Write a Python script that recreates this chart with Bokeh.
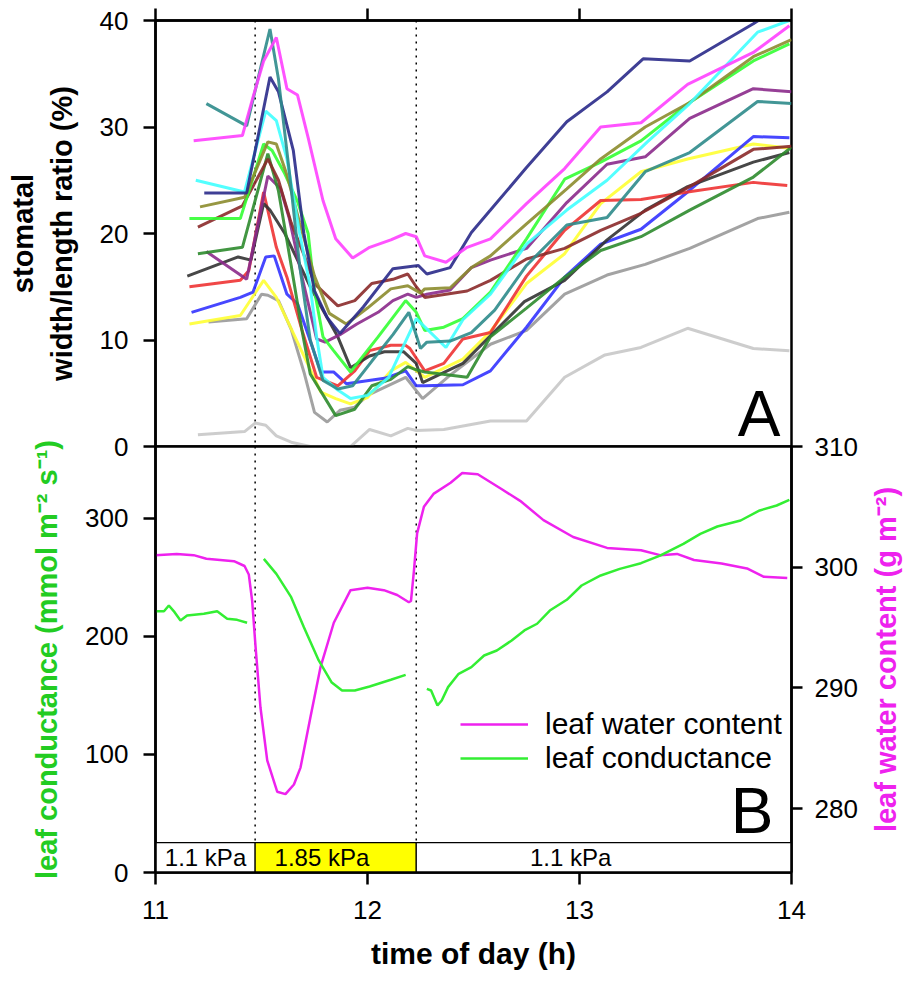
import math
from bokeh.plotting import figure
from bokeh.layouts import column, row
from bokeh.models import (Range1d, LinearAxis, FixedTicker, Span, Label,
                          Legend, LegendItem)
from bokeh.embed import file_html
from bokeh.resources import INLINE
from bokeh.core.properties import value

NAN = float("nan")
FONT = "Liberation Sans"

# ---------------- Panel A: stomatal width/length ratio (%) ----------------
magenta_t = [11.18, 11.41, 11.46, 11.51, 11.57, 11.62, 11.67, 11.72, 11.79, 11.85, 11.93, 12.01, 12.11, 12.18, 12.23, 12.27, 12.37, 12.47, 12.58, 12.75, 12.93, 13.10, 13.29, 13.51, 13.82, 13.99]
magenta_v = [28.7, 29.2, 32.8, 36.2, 38.4, 33.6, 33.0, 29.0, 23.1, 19.5, 17.7, 18.7, 19.4, 20.0, 19.7, 17.9, 17.3, 18.7, 19.5, 22.8, 26.1, 30.0, 30.4, 34.0, 37.0, 39.5]

teal_t = [11.24, 11.43, 11.54, 11.58, 11.63, 11.68, 11.73, 11.79, 11.86, 11.93, 12.02, 12.12, 12.195, 12.25, 12.28, 12.39, 12.49, 12.60, 12.75, 12.94, 13.13, 13.31, 13.52, 13.84, 14.0]
teal_v = [32.2, 30.1, 39.2, 34.5, 26.0, 17.0, 10.0, 6.2, 5.4, 5.7, 8.0, 10.5, 12.6, 9.2, 9.8, 9.9, 10.7, 12.8, 17.0, 20.8, 21.5, 25.8, 27.6, 32.4, 32.2]

navy_t = [11.23, 11.43, 11.54, 11.58, 11.65, 11.70, 11.75, 11.81, 11.87, 11.98, 12.12, 12.24, 12.28, 12.39, 12.49, 12.58, 12.75, 12.94, 13.13, 13.30, 13.52, 13.82, 14.0]
navy_v = [23.8, 23.8, 34.7, 33.3, 27.8, 20.0, 14.6, 12.1, 10.6, 13.1, 16.7, 17.0, 16.2, 16.8, 20.1, 22.2, 26.2, 30.5, 33.3, 36.4, 36.2, 39.7, 42.0]

cyan_t = [11.19, 11.42, 11.52, 11.57, 11.62, 11.68, 11.73, 11.76, 11.79, 11.86, 11.92, 12.00, 12.10, 12.23, 12.37, 12.45, 12.58, 12.75, 12.94, 13.13, 13.32, 13.52, 13.84, 13.99]
cyan_v = [25.0, 23.9, 31.5, 30.6, 27.0, 20.0, 15.0, 10.3, 6.5, 5.3, 4.5, 4.8, 6.5, 12.0, 9.3, 11.9, 14.3, 19.0, 22.2, 25.0, 28.6, 32.2, 38.9, 40.0]

olive_t = [11.21, 11.42, 11.53, 11.57, 11.62, 11.68, 11.75, 11.82, 11.90, 12.00, 12.11, 12.19, 12.25, 12.27, 12.39, 12.49, 12.58, 12.75, 12.94, 13.10, 13.31, 13.52, 13.82, 14.0]
olive_v = [22.5, 23.4, 28.6, 28.4, 25.5, 21.0, 16.0, 12.5, 11.5, 13.0, 14.8, 15.1, 14.4, 14.8, 14.9, 16.8, 17.9, 20.9, 24.2, 27.0, 30.0, 32.3, 36.6, 38.2]

green_t = [11.16, 11.40, 11.51, 11.55, 11.61, 11.67, 11.72, 11.75, 11.79, 11.84, 11.92, 12.05, 12.18, 12.23, 12.27, 12.36, 12.45, 12.58, 12.75, 12.93, 13.10, 13.29, 13.52, 13.82, 13.99]
green_v = [21.4, 21.4, 28.4, 27.8, 25.6, 23.0, 20.0, 14.6, 10.3, 9.0, 7.0, 10.3, 13.7, 12.6, 10.9, 11.2, 12.0, 14.5, 19.5, 25.1, 26.7, 28.7, 32.3, 36.2, 37.8]

maroon_t = [11.20, 11.41, 11.53, 11.58, 11.64, 11.70, 11.75, 11.86, 11.94, 12.02, 12.12, 12.19, 12.23, 12.27, 12.47, 12.58, 12.75, 12.93, 13.10, 13.29, 13.52, 13.82, 14.0]
maroon_v = [20.6, 22.6, 27.0, 25.0, 21.0, 18.0, 15.3, 13.2, 13.7, 15.3, 15.7, 16.2, 15.0, 14.0, 14.6, 15.6, 17.6, 18.6, 20.3, 21.9, 24.4, 27.9, 28.2]

forest_t = [11.20, 11.41, 11.53, 11.58, 11.64, 11.69, 11.73, 11.85, 11.94, 12.02, 12.11, 12.19, 12.23, 12.27, 12.47, 12.58, 12.75, 12.93, 13.10, 13.29, 13.52, 13.82, 14.0]
forest_v = [18.1, 18.7, 27.5, 24.0, 17.0, 11.0, 6.8, 2.9, 3.5, 5.7, 6.3, 7.5, 7.2, 7.0, 6.5, 10.3, 13.0, 15.9, 18.4, 19.7, 22.2, 25.3, 28.1]

purple_t = [11.24, 11.43, 11.53, 11.59, 11.63, 11.69, 11.76, 11.80, 11.87, 11.95, 12.05, 12.12, 12.19, 12.23, 12.28, 12.39, 12.49, 12.58, 12.75, 12.94, 13.13, 13.31, 13.52, 13.82, 14.0]
purple_v = [18.3, 15.7, 25.4, 24.2, 21.5, 16.0, 10.1, 9.8, 10.5, 11.5, 12.6, 13.7, 14.3, 14.0, 14.3, 14.7, 16.8, 17.5, 18.6, 22.9, 26.5, 27.2, 30.8, 33.6, 33.3]

black_t = [11.15, 11.39, 11.45, 11.51, 11.54, 11.61, 11.67, 11.73, 11.79, 11.86, 11.92, 12.01, 12.08, 12.17, 12.23, 12.26, 12.45, 12.74, 12.93, 13.13, 13.31, 13.51, 13.82, 13.99]
black_v = [16.0, 17.8, 17.5, 22.8, 22.2, 20.0, 17.5, 15.0, 12.8, 10.3, 7.4, 8.5, 8.9, 8.9, 7.8, 6.0, 7.8, 13.6, 15.6, 19.4, 22.2, 24.4, 26.7, 27.6]

red_t = [11.16, 11.40, 11.44, 11.51, 11.57, 11.62, 11.69, 11.76, 11.86, 11.94, 12.01, 12.11, 12.18, 12.20, 12.27, 12.36, 12.45, 12.58, 12.75, 12.93, 13.10, 13.29, 13.51, 13.82, 13.98]
red_v = [15.0, 15.6, 16.5, 23.9, 18.7, 15.9, 11.0, 6.5, 5.7, 7.1, 9.0, 9.5, 9.5, 9.2, 7.1, 7.8, 10.1, 10.7, 16.0, 20.3, 23.1, 23.2, 23.9, 24.8, 24.5]

blue_t = [11.17, 11.40, 11.46, 11.52, 11.56, 11.62, 11.67, 11.72, 11.78, 11.84, 11.90, 12.08, 12.18, 12.23, 12.27, 12.45, 12.58, 12.75, 12.93, 13.10, 13.29, 13.51, 13.82, 13.99]
blue_v = [12.6, 14.0, 14.5, 17.8, 17.9, 14.3, 13.4, 10.5, 7.0, 7.0, 5.9, 6.4, 7.1, 5.7, 5.7, 5.8, 7.1, 11.2, 15.9, 19.0, 20.4, 23.9, 29.1, 29.0]

yellow_t = [11.16, 11.40, 11.51, 11.57, 11.63, 11.70, 11.78, 11.85, 11.92, 12.00, 12.11, 12.18, 12.27, 12.45, 12.58, 12.75, 12.93, 13.10, 13.29, 13.51, 13.82, 13.99]
yellow_v = [11.5, 12.3, 15.6, 14.0, 11.5, 8.5, 5.1, 4.5, 4.0, 4.6, 7.1, 7.9, 6.5, 8.2, 10.8, 15.3, 18.1, 22.8, 25.8, 27.0, 28.4, 28.0]

gray_t = [11.25, 11.43, 11.50, 11.53, 11.58, 11.64, 11.70, 11.75, 11.81, 11.87, 11.94, 12.00, 12.18, 12.26, 12.39, 12.58, 12.75, 12.93, 13.13, 13.31, 13.52, 13.84, 13.99]
gray_v = [11.7, 12.0, 14.3, 14.2, 13.7, 11.0, 7.0, 3.2, 2.3, 3.4, 3.7, 4.8, 6.5, 4.5, 6.7, 9.6, 10.9, 14.3, 16.1, 17.1, 18.6, 21.4, 22.0]

lightgray_t = [11.20, 11.42, 11.47, 11.52, 11.57, 11.64, 11.73, 11.92, 12.01, 12.11, 12.19, 12.23, 12.36, 12.58, 12.75, 12.93, 13.12, 13.29, 13.51, 13.82, 13.99]
lightgray_v = [1.1, 1.4, 2.2, 2.0, 1.0, 0.4, 0.0, 0.0, 1.6, 1.0, 1.7, 1.5, 1.6, 2.4, 2.4, 6.5, 8.6, 9.3, 11.1, 9.2, 9.0]

stomata_series = [
    (lightgray_t, lightgray_v, "#c8c8c8"),
    (gray_t, gray_v, "#999999"),
    (yellow_t, yellow_v, "#ffff33"),
    (blue_t, blue_v, "#3333ff"),
    (red_t, red_v, "#ee3333"),
    (black_t, black_v, "#333333"),
    (purple_t, purple_v, "#8b2a8b"),
    (forest_t, forest_v, "#2e8b2e"),
    (maroon_t, maroon_v, "#8b2a2a"),
    (green_t, green_v, "#33ff33"),
    (olive_t, olive_v, "#8c8c2e"),
    (cyan_t, cyan_v, "#40ffff"),
    (navy_t, navy_v, "#2a2a8a"),
    (teal_t, teal_v, "#2e8b8b"),
    (magenta_t, magenta_v, "#ff40ff"),
]

# ---------------- Panel B ----------------
lwc_t = [11.00, 11.10, 11.18, 11.24, 11.37, 11.42, 11.44, 11.456, 11.472, 11.495, 11.527, 11.574, 11.613, 11.653, 11.684, 11.731, 11.778, 11.841, 11.92, 12.00, 12.077, 12.14, 12.195, 12.205, 12.219, 12.234, 12.266, 12.313, 12.392, 12.447, 12.52, 12.63, 12.72, 12.83, 12.97, 13.13, 13.29, 13.38, 13.46, 13.54, 13.67, 13.79, 13.87, 13.98]
lwc_v = [301.0, 301.1, 301.0, 300.7, 300.5, 300.1, 299.4, 297.2, 293.4, 288.4, 284.0, 281.4, 281.2, 282.0, 283.4, 287.6, 291.7, 295.4, 298.1, 298.3, 298.1, 297.7, 297.1, 297.2, 299.7, 302.8, 305.0, 306.1, 307.0, 307.8, 307.7, 306.5, 305.5, 303.9, 302.5, 301.6, 301.4, 301.0, 301.1, 300.6, 300.3, 299.9, 299.2, 299.1]

cond_t = [11.00, 11.04, 11.063, 11.09, 11.118, 11.149, 11.228, 11.291, 11.338, 11.385, 11.432, 11.46,
          11.511, 11.57, 11.64, 11.70, 11.77, 11.83, 11.88, 11.94, 12.01, 12.11, 12.18, 12.22,
          12.28, 12.30, 12.33, 12.35, 12.38, 12.43, 12.49, 12.55, 12.61, 12.68, 12.74, 12.80, 12.86, 12.94, 13.01, 13.10, 13.19, 13.29, 13.38, 13.49, 13.57, 13.65, 13.76, 13.85, 13.93, 13.99]
cond_v = [221.4, 221.4, 226.3, 220.6, 213.6, 217.8, 219.2, 221.4, 215.0, 214.1, 211.6, NAN,
          265.8, 253.1, 233.3, 207.9, 179.7, 161.3, 154.2, 154.2, 157.6, 163.3, 167.5, NAN,
          155.6, 154.2, 141.5, 145.8, 157.1, 168.4, 174.0, 183.9, 188.1, 196.6, 205.1, 210.8, 222.0, 231.1, 243.2, 251.7, 257.3, 262.1, 268.6, 278.5, 287.0, 293.2, 298.3, 306.8, 311.0, 315.8]

# VPD phases
phase_start = [11.0, 11.47, 12.23]
phase_end = [11.47, 12.23, 14.0]
phase_label = ["1.1 kPa", "1.85 kPa", "1.1 kPa"]
phase_label_x = [11.236, 11.785, 12.958]
phase_fill = ["white", "#ffff00", "white"]

x_ticks = [11, 12, 13, 14]
a_ticks = [0, 10, 20, 30, 40]
cond_ticks = [0, 100, 200, 300]
lwc_ticks = [280, 290, 300, 310]

TICK_FONT = "26px"
TITLE_FONT = "29px"
GREEN_LABEL = "#22cc22"
MAGENTA_LABEL = "#ee22ee"


def style_axis(ax, tick_out, standoff):
    ax.axis_line_color = "black"
    ax.axis_line_width = 2.5
    ax.major_tick_line_color = "black"
    ax.major_tick_line_width = 2.5
    ax.major_tick_in = 0
    ax.major_tick_out = tick_out
    ax.minor_tick_line_color = None
    ax.major_label_text_font = FONT
    ax.major_label_text_font_size = TICK_FONT
    ax.major_label_text_color = "black"
    ax.major_label_standoff = standoff
    ax.axis_label_text_font = FONT
    ax.axis_label_text_font_style = "bold"
    ax.axis_label_text_font_size = TITLE_FONT


def base_style(fig):
    fig.xgrid.visible = False
    fig.ygrid.visible = False
    fig.outline_line_color = "black"
    fig.outline_line_width = 2.5
    fig.background_fill_color = "white"
    for t in phase_end[:2]:
        fig.add_layout(Span(location=t, dimension="height", line_color="black",
                            line_width=1.5, line_dash="2 5", level="underlay"))


# ================= Panel A figure =================
pa = figure(width=903, height=462, x_range=Range1d(11, 14), y_range=Range1d(0, 40),
            x_axis_location=None, output_backend="svg", toolbar_location=None,
            min_border_left=155, min_border_right=112, min_border_top=20,
            min_border_bottom=16)
pa.border_fill_color = "white"
base_style(pa)

top_ax = LinearAxis(ticker=FixedTicker(ticks=x_ticks))
style_axis(top_ax, 12, 0)
top_ax.major_label_overrides = {t: "" for t in x_ticks}
top_ax.major_label_text_font_size = "1px"
pa.add_layout(top_ax, "above")

ya = pa.yaxis[0]
ya.ticker = FixedTicker(ticks=a_ticks)
style_axis(ya, 12, 15)
ya.axis_label = "stomatal\nwidth/length ratio (%)"
ya.axis_label_text_color = "black"
ya.axis_label_standoff = 19

for t, v, c in stomata_series:
    pa.line(t, v, line_color=c, line_width=3, line_alpha=0.9)

pa.add_layout(Label(x=13.948, y=3.05, text="A", text_font=FONT, text_font_size="64px",
                    text_align="right", text_baseline="middle", text_color="black"))

# ================= Panel B figure =================
pb = figure(width=903, height=556, x_range=pa.x_range, y_range=Range1d(0, 361),
            output_backend="svg", toolbar_location=None,
            min_border_left=155, min_border_right=112, min_border_top=16,
            min_border_bottom=114)
pb.border_fill_alpha = 0.0
base_style(pb)
pb.extra_y_ranges = {"lwc": Range1d(274.71, 310.0)}

xa = pb.xaxis[0]
xa.ticker = FixedTicker(ticks=x_ticks)
style_axis(xa, 12, 16)
xa.axis_label = "time of day (h)"
xa.axis_label_text_font_size = "30px"
xa.axis_label_text_color = "black"
xa.axis_label_standoff = 15

yb = pb.yaxis[0]
yb.ticker = FixedTicker(ticks=cond_ticks)
style_axis(yb, 12, 15)
yb.axis_label = "leaf conductance (mmol m\u207b\u00b2 s\u207b\u00b9)"
yb.axis_label_text_color = GREEN_LABEL
yb.axis_label_standoff = 19

ra = LinearAxis(y_range_name="lwc", ticker=FixedTicker(ticks=lwc_ticks))
style_axis(ra, 11, 12)
pb.add_layout(ra, "right")

# VPD bar
pb.quad(left=phase_start, right=phase_end, bottom=0, top=25.4,
        fill_color=phase_fill, line_color="black", line_width=1.2)
pb.text(x=phase_label_x, y=[12.3] * 3, text=phase_label,
        text_font=value(FONT), text_font_size="24px",
        text_align="center", text_baseline="middle", text_color="black")

r_lwc = pb.line(lwc_t, lwc_v, y_range_name="lwc", line_color="#ee22ee", line_width=2.5)
r_cond = pb.line(cond_t, cond_v, line_color="#33ee33", line_width=2.5)

legend = Legend(items=[LegendItem(label="leaf water content", renderers=[r_lwc]),
                       LegendItem(label="leaf conductance", renderers=[r_cond])],
                location=(305, 97), glyph_width=68, glyph_height=34,
                label_height=34, label_standoff=17, spacing=0, padding=0,
                margin=0, border_line_alpha=0, background_fill_alpha=0,
                label_text_font=FONT, label_text_font_size="30px",
                label_text_color="black")
pb.add_layout(legend)

pb.add_layout(Label(x=13.915, y=52.1, text="B", text_font=FONT, text_font_size="64px",
                    text_align="right", text_baseline="middle", text_color="black"))

# ===== title of the leaf water content axis (reads bottom-to-top) =====
pc = figure(width=40, height=556, x_range=Range1d(0, 1), y_range=Range1d(274.71, 310.0),
            x_axis_location=None, output_backend="svg", toolbar_location=None,
            min_border_left=38, min_border_right=0, min_border_top=16,
            min_border_bottom=114, margin=(0, 0, 0, -40))
pc.xgrid.visible = False
pc.ygrid.visible = False
pc.outline_line_color = None
pc.background_fill_alpha = 0.0
pc.border_fill_alpha = 0.0
yc = pc.yaxis[0]
yc.ticker = FixedTicker(ticks=[])
yc.axis_line_color = None
yc.major_tick_line_color = None
yc.minor_tick_line_color = None
yc.major_tick_out = 0
yc.major_tick_in = 0
yc.major_label_standoff = 0
yc.axis_label = "leaf water content (g m\u207b\u00b2)"
yc.axis_label_text_font = FONT
yc.axis_label_text_font_style = "bold"
yc.axis_label_text_font_size = TITLE_FONT
yc.axis_label_text_color = MAGENTA_LABEL
yc.axis_label_standoff = 0

bottom_row = row(pb, pc, spacing=0, margin=(-32, 0, 0, 0))
layout = column(pa, bottom_row, spacing=0)
open("out.html", "w").write(file_html(layout, INLINE))
